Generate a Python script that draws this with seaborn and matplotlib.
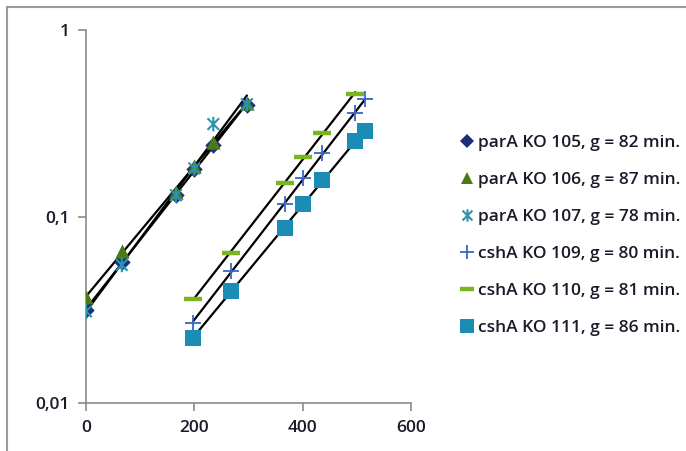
import numpy as np
import pandas as pd
import seaborn as sns
import matplotlib
matplotlib.use("Agg")
import matplotlib.pyplot as plt
from matplotlib.lines import Line2D
from matplotlib.path import Path

# ---- data ----
t_105 = [0, 66, 166, 200, 235, 297]
v_105 = [0.0315, 0.057, 0.130, 0.179, 0.242, 0.396]
t_106 = [0, 66, 166, 200, 235, 297]
v_106 = [0.037, 0.065, 0.136, 0.187, 0.252, 0.404]
t_107 = [0, 66, 166, 200, 235, 297]
v_107 = [0.031, 0.055, 0.130, 0.181, 0.313, 0.400]
t_109 = [198, 267, 367, 401, 436, 497, 515]
v_109 = [0.027, 0.051, 0.117, 0.160, 0.218, 0.357, 0.425]
t_110 = [198, 267, 367, 401, 436, 497]
v_110 = [0.036, 0.0635, 0.152, 0.208, 0.281, 0.452]
t_111 = [198, 267, 367, 401, 436, 497, 515]
v_111 = [0.0222, 0.040, 0.087, 0.117, 0.157, 0.254, 0.287]

labels = ["parA KO 105, g = 82 min.", "parA KO 106, g = 87 min.",
          "parA KO 107, g = 78 min.", "cshA KO 109, g = 80 min.",
          "cshA KO 110, g = 81 min.", "cshA KO 111, g = 86 min."]
x_ticks = [0, 200, 400, 600]
y_ticks = [0.01, 0.1, 1]
y_ticklabels = ["0,01", "0,1", "1"]

series = [(t_105, v_105), (t_106, v_106), (t_107, v_107),
          (t_109, v_109), (t_110, v_110), (t_111, v_111)]

# Excel-like asterisk: X plus a vertical bar
ast = Path([(-1, -1), (1, 1), (-1, 1), (1, -1), (0, -1.25), (0, 1.25)],
           [Path.MOVETO, Path.LINETO, Path.MOVETO, Path.LINETO,
            Path.MOVETO, Path.LINETO])

styles = [
    dict(marker="D", color="#1c2f78", s=70, lw=0, line=False),
    dict(marker="^", color="#4a7a18", s=105, lw=0, line=False),
    dict(marker=ast, color="#2b93b0", s=110, lw=1.5, line=True),
    dict(marker="+", color="#3a66c8", s=140, lw=1.3, line=True),
    dict(marker="_", color="#7ab51d", s=150, lw=3.2, line=True),
    dict(marker="s", color="#1b8cb4", s=125, lw=0, line=False),
]

sns.set_theme(style="white")
plt.rcParams["font.family"] = ["Open Sans", "DejaVu Sans"]

fig = plt.figure(figsize=(6.86, 4.51), dpi=100)
ax = fig.add_axes([0.1254, 0.1064, 0.4738, 0.8271])

handles = []
for (tt, vv), st, lab in zip(series, styles, labels):
    df = pd.DataFrame({"t": tt, "v": vv})
    # exponential trendline (fit in log space)
    k, b = np.polyfit(df["t"], np.log10(df["v"]), 1)
    tl = np.array([df["t"].min(), df["t"].max()])
    fit = pd.DataFrame({"t": tl, "v": 10 ** (k * tl + b)})
    sns.lineplot(data=fit, x="t", y="v", color="black", lw=1.6, ax=ax,
                 zorder=3, legend=False)
    if st["line"]:
        sns.scatterplot(data=df, x="t", y="v", marker=st["marker"],
                        color=st["color"], edgecolor=st["color"],
                        facecolor="none" if st["marker"] is ast else st["color"],
                        s=st["s"], linewidth=st["lw"],
                        ax=ax, zorder=4, legend=False)
    else:
        sns.scatterplot(data=df, x="t", y="v", marker=st["marker"],
                        color=st["color"], s=st["s"], linewidth=0,
                        ax=ax, zorder=4, legend=False)
    handles.append(Line2D([], [], linestyle="none", marker=st["marker"],
                          color=st["color"], markeredgecolor=st["color"],
                          markersize=np.sqrt(st["s"]) * 0.85,
                          markeredgewidth=st["lw"] if st["lw"] else 0))

ax.set_yscale("log")
ax.set_xlim(0, 600)
ax.set_ylim(0.01, 1)
ax.set_xticks(x_ticks)
ax.set_xticklabels([str(x) for x in x_ticks])
ax.set_yticks(y_ticks)
ax.set_yticklabels(y_ticklabels)
ax.yaxis.set_minor_locator(matplotlib.ticker.NullLocator())
ax.set_xlabel("")
ax.set_ylabel("")
for side in ("top", "right"):
    ax.spines[side].set_visible(False)
for side in ("left", "bottom"):
    ax.spines[side].set_color("#8a8a8a")
    ax.spines[side].set_linewidth(1.2)
ax.tick_params(axis="both", which="major", direction="out", length=6,
               width=1.2, color="#8a8a8a", labelsize=12.5,
               labelcolor="#1a1a2a", bottom=True, left=True, pad=6)
for lab in ax.get_xticklabels() + ax.get_yticklabels():
    lab.set_fontweight("semibold")

leg = fig.legend(handles, labels, loc="upper left",
                 bbox_to_anchor=(0.648, 0.735), frameon=False,
                 handlelength=0.8, handletextpad=0.2, labelspacing=1.2,
                 prop={"size": 12.5, "weight": "semibold"})
for txt in leg.get_texts():
    txt.set_color("#1a1a2a")

# outer frame (top and left edges visible in reference)
fig.add_artist(Line2D([7 / 686, 1], [1 - 7 / 451, 1 - 7 / 451],
                      transform=fig.transFigure, color="#9a9a9a", lw=1.5))
fig.add_artist(Line2D([7 / 686, 7 / 686], [0, 1 - 7 / 451],
                      transform=fig.transFigure, color="#9a9a9a", lw=1.5))

fig.savefig("out.png", dpi=100)
